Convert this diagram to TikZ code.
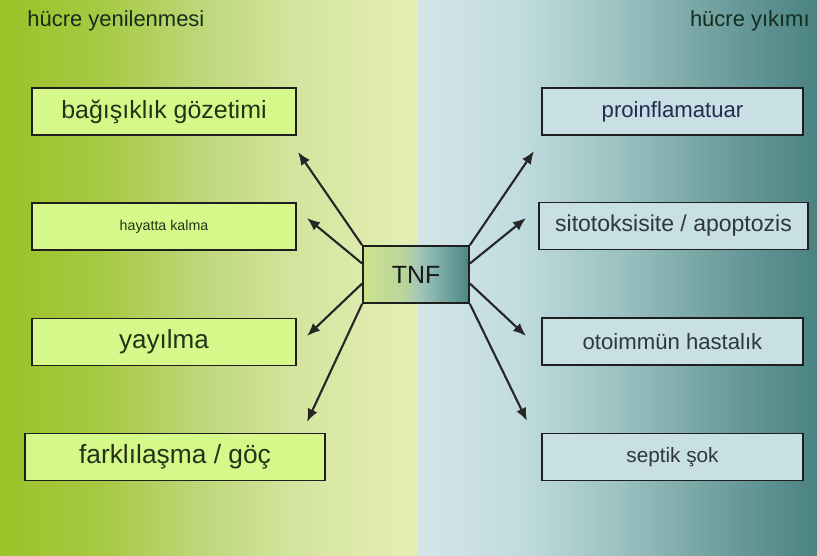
\documentclass[tikz,border=0pt]{standalone}
\usepackage{fontspec}
\setmainfont{Liberation Sans}
\usepackage{xcolor}
\usepackage{tikz}
\usetikzlibrary{arrows.meta, positioning, calc}
\definecolor{bgl1}{RGB}{154,195,40}
\definecolor{bgl2}{RGB}{166,201,66}
\definecolor{bgl3}{RGB}{190,215,122}
\definecolor{bgl4}{RGB}{213,229,160}
\definecolor{bgl5}{RGB}{229,239,181}
\definecolor{bgr1}{RGB}{212,230,234}
\definecolor{bgr2}{RGB}{192,219,222}
\definecolor{bgr3}{RGB}{156,194,194}
\definecolor{bgr4}{RGB}{111,159,158}
\definecolor{bgr5}{RGB}{74,130,130}
\definecolor{tnf1}{RGB}{204,227,140}
\definecolor{tnf2}{RGB}{184,212,156}
\definecolor{tnf3}{RGB}{160,196,188}
\definecolor{tnf4}{RGB}{74,134,132}
\definecolor{lfill}{RGB}{214,248,138}
\definecolor{rfill}{RGB}{200,224,228}
\definecolor{boxline}{RGB}{30,30,30}
\definecolor{ltext}{RGB}{36,50,22}
\definecolor{rtext}{RGB}{46,56,60}
\definecolor{rnavy}{RGB}{32,44,80}
\definecolor{hdr}{RGB}{20,46,30}
\pgfdeclarehorizontalshading{leftbg}{100bp}{color(0bp)=(bgl1); color(25bp)=(bgl1); color(37bp)=(bgl2); color(49bp)=(bgl3); color(61bp)=(bgl4); color(75bp)=(bgl5); color(100bp)=(bgl5)}
\pgfdeclarehorizontalshading{rightbg}{100bp}{color(0bp)=(bgr1); color(25bp)=(bgr1); color(38bp)=(bgr2); color(50bp)=(bgr3); color(63bp)=(bgr4); color(75bp)=(bgr5); color(100bp)=(bgr5)}
\pgfdeclarehorizontalshading{tnfshade}{100bp}{color(0bp)=(tnf1); color(25bp)=(tnf1); color(45bp)=(tnf2); color(52bp)=(tnf3); color(75bp)=(tnf4); color(100bp)=(tnf4)}
\newcommand{\fsz}[1]{\fontsize{#1}{#1}\selectfont}
\tikzset{
  lbox/.style={rectangle, draw=boxline, fill=lfill, minimum width=5.28cm,
    minimum height=0.94cm, text=ltext, line width=1.1pt},
  rbox/.style={rectangle, draw=boxline, fill=rfill, minimum width=5.22cm,
    minimum height=0.94cm, text=rtext, line width=1.1pt},
  tnfbox/.style={rectangle, draw=boxline, shading=tnfshade, shade, minimum width=2.12cm,
    minimum height=1.14cm, font=\fsz{14.2}, text=black!90, line width=1pt},
  heading/.style={inner sep=0pt, font=\fsz{12.5}, text=hdr},
  arrow/.style={-{Latex[length=2.6mm, width=2.1mm]}, line width=1.2pt, color=black!85}
}
\begin{document}
\begin{tikzpicture}
  \useasboundingbox (0,0) rectangle (16.34,-11.1);
  % Background halves
  \shade[shading=leftbg] (0,0) rectangle (8.36,-11.1);
  \shade[shading=rightbg] (8.36,0) rectangle (16.34,-11.1);
  % Headings
  \node[heading, anchor=north west] (hleft) at (0.54,-0.2) {hücre yenilenmesi};
  \node[heading, anchor=north east] (hright) at (16.2,-0.2) {hücre yıkımı};
  % Centre
  \node[tnfbox] (tnf) at (8.32,-5.49) {TNF};
  % Left column (cell renewal)
  \node[lbox, font=\fsz{14.2}] (gozetim) at (3.28,-2.23) {bağışıklık gözetimi};
  \node[lbox, font=\fsz{8.1}] (hayatta) at (3.28,-4.53) {hayatta kalma};
  \node[lbox, font=\fsz{14.8}] (yayilma) at (3.28,-6.84) {yayılma};
  \node[lbox, font=\fsz{15}, minimum width=6cm] (farkli) at (3.5,-9.14) {farklılaşma / göç};
  % Right column (cell death)
  \node[rbox, font=\fsz{12.6}, text=rnavy] (proinf) at (13.45,-2.23) {proinflamatuar};
  \node[rbox, font=\fsz{13.1}, minimum width=5.38cm] (sitotok) at (13.47,-4.52) {sitotoksisite / apoptozis};
  \node[rbox, font=\fsz{12.6}] (otoimmun) at (13.45,-6.83) {otoimmün hastalık};
  \node[rbox, font=\fsz{11.8}] (septik) at (13.45,-9.14) {septik şok};
  % Arrow ends
  \coordinate (gozetimend) at (5.96,-3.04);
  \coordinate (hayattaend) at (6.14,-4.36);
  \coordinate (yayilmaend) at (6.14,-6.72);
  \coordinate (farkliend) at (6.14,-8.44);
  \coordinate (proinfend) at (10.68,-3.02);
  \coordinate (sitotokend) at (10.52,-4.36);
  \coordinate (otoimmunend) at (10.52,-6.72);
  \coordinate (septikend) at (10.54,-8.42);
  % Arrows out of TNF
  \draw[arrow] (tnf.north west) -- (gozetimend);
  \draw[arrow] ([yshift=0.22cm]tnf.west) -- (hayattaend);
  \draw[arrow] ([yshift=-0.18cm]tnf.west) -- (yayilmaend);
  \draw[arrow] (tnf.south west) -- (farkliend);
  \draw[arrow] (tnf.north east) -- (proinfend);
  \draw[arrow] ([yshift=0.22cm]tnf.east) -- (sitotokend);
  \draw[arrow] ([yshift=-0.18cm]tnf.east) -- (otoimmunend);
  \draw[arrow] (tnf.south east) -- (septikend);
\end{tikzpicture}
\end{document}
